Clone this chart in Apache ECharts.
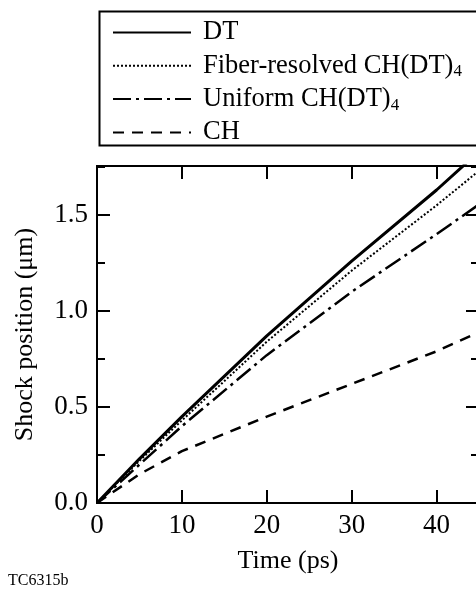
<!DOCTYPE html>
<html>
<head>
<meta charset="utf-8">
<script src="https://cdn.jsdelivr.net/npm/echarts@6/dist/echarts.min.js"></script>
<style>
html,body{margin:0;padding:0;overflow:hidden;background:#fff}
#chart{width:482px;height:591px}
</style>
</head>
<body>
<div id="chart"></div>
<script>
// time in ps, shock position in um
const times = [0, 5, 10, 20, 30, 40, 45];
const dtPos = [0, 0.23, 0.45, 0.87, 1.26, 1.63, 1.83];
const fiberPos = [0, 0.22, 0.43, 0.84, 1.21, 1.55, 1.73];
const uniformPos = [0, 0.20, 0.40, 0.77, 1.10, 1.40, 1.555];
const chPos = [0, 0.15, 0.27, 0.45, 0.62, 0.79, 0.89];

const seriesNames = ['DT', 'Fiber-resolved CH(DT)4', 'Uniform CH(DT)4', 'CH'];
const xTicks = [0, 10, 20, 30, 40];
const yTicks = [0, 0.5, 1.0, 1.5];

const FONT = '"Liberation Serif", "Times New Roman", serif';
const black = '#000';

const chart = echarts.init(document.getElementById('chart'));

function pairs(ys) {
    return times.map((t, i) => [t, ys[i]]);
}

const lineStyles = [
    { width: 3, type: 'solid' },
    { width: 2, type: [2, 2] },
    { width: 2.5, type: [18, 5, 3, 5] },
    { width: 2.5, type: [11, 8] }
];

function legendLabel(name) {
    if (name.endsWith('4')) return '{n|' + name.slice(0, -1) + '}{s|4}';
    return '{n|' + name + '}';
}

// one legend per row so the rows sit where they do in the figure
const legends = seriesNames.map((name, i) => ({
    data: [name],
    left: 112,
    top: 19 + 33.3 * i,
    padding: 0,
    itemWidth: 78,
    itemHeight: 14,
    selectedMode: false,
    itemStyle: { opacity: 0 },
    formatter: legendLabel,
    textStyle: {
        padding: [0, 0, 0, 7],
        rich: {
            n: { fontFamily: FONT, fontSize: 26.5, color: black },
            s: { fontFamily: FONT, fontSize: 17, color: black, padding: [12, 0, 0, 0] }
        }
    }
}));

const axisLine = { show: true, onZero: false, lineStyle: { color: black, width: 2 } };

function yAx(pos, interval, len, withLabels) {
    return {
        type: 'value', position: pos, min: 0, max: 1.755, interval: interval,
        axisLine: axisLine,
        axisTick: { inside: true, length: len, lineStyle: { color: black, width: 2 } },
        splitLine: { show: false },
        axisLabel: withLabels ? {
            color: black, fontFamily: FONT, fontSize: 27, margin: 9,
            formatter: v => yTicks.indexOf(v) >= 0 ? v.toFixed(1) : ''
        } : { show: false }
    };
}

const yAxes = [yAx('left', 0.25, 8, true), yAx('left', 0.5, 13, false),
               yAx('right', 0.25, 8, false), yAx('right', 0.5, 13, false)];
Object.assign(yAxes[0], {
    name: 'Shock position (\u03bcm)', nameLocation: 'middle', nameGap: 59,
    nameTextStyle: { color: black, fontFamily: FONT, fontSize: 26 }
});

function xAx(pos, withLabels) {
    return {
        type: 'value', position: pos, min: 0, max: 45, interval: 10,
        axisLine: axisLine,
        axisTick: { inside: true, length: 13, lineStyle: { color: black, width: 2 } },
        splitLine: { show: false },
        axisLabel: withLabels ? {
            color: black, fontFamily: FONT, fontSize: 27, margin: 9,
            formatter: v => xTicks.indexOf(v) >= 0 ? String(v) : ''
        } : { show: false }
    };
}

const xAxes = [xAx('bottom', true), xAx('top', false)];
Object.assign(xAxes[0], {
    name: 'Time (ps)', nameLocation: 'middle', nameGap: 45,
    nameTextStyle: { color: black, fontFamily: FONT, fontSize: 26 }
});

const allPos = [dtPos, fiberPos, uniformPos, chPos];

chart.setOption({
    animation: false,
    backgroundColor: '#fff',
    grid: { left: 97, right: 2.5, top: 166, bottom: 88 },
    legend: legends,
    xAxis: xAxes,
    yAxis: yAxes,
    series: seriesNames.map((name, i) => ({
        name: name,
        type: 'line',
        symbol: 'none',
        clip: true,
        data: pairs(allPos[i]),
        color: black,
        lineStyle: Object.assign({ color: black }, lineStyles[i])
    })),
    graphic: [
        {
            type: 'rect', left: 97, top: 9, silent: true,
            shape: { width: 420, height: 134 },
            style: { fill: 'none', stroke: black, lineWidth: 2 }
        },
        {
            type: 'text', left: 8, top: 573,
            style: { text: 'TC6315b', font: '16px ' + FONT, fill: black }
        }
    ]
});
</script>
</body>
</html>
